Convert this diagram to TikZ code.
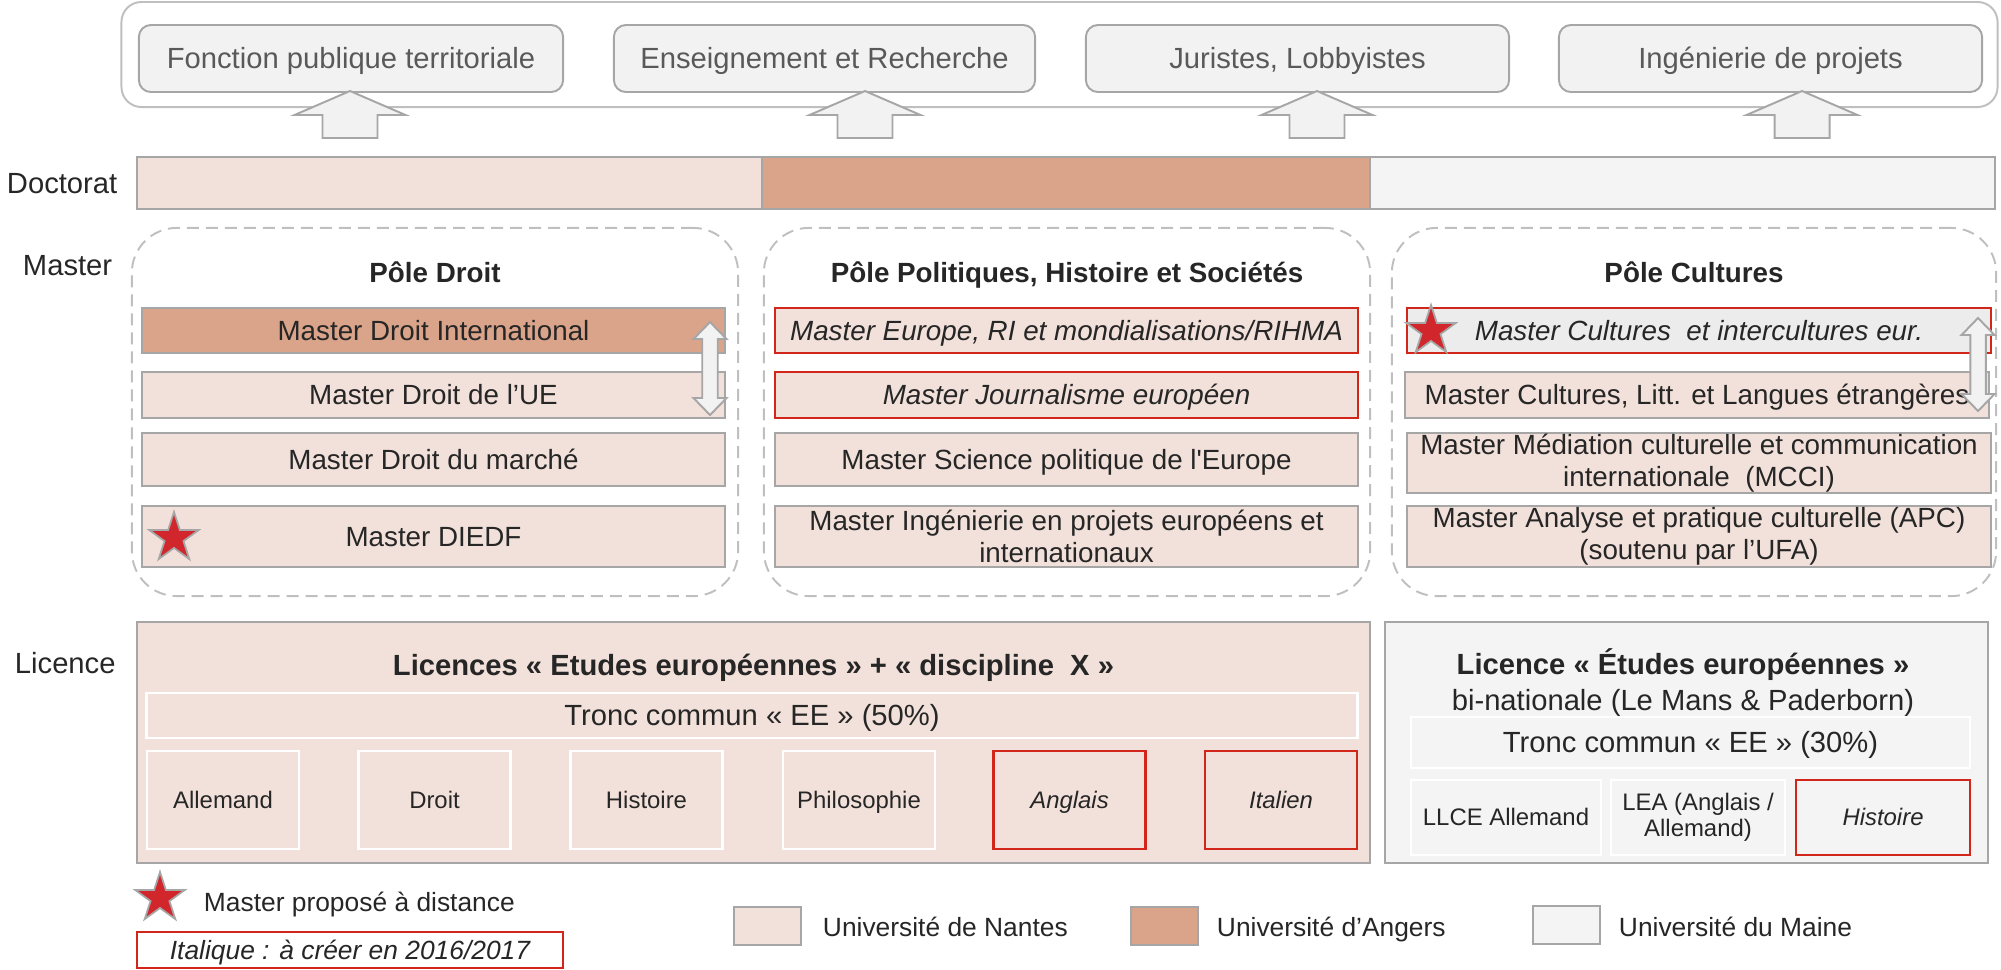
\documentclass[tikz,border=0pt]{standalone}
\usepackage{fontspec}
\setmainfont{Liberation Sans}
\usepackage{tikz}
\usetikzlibrary{arrows.meta}
\usetikzlibrary{calc}
\usetikzlibrary{shapes}

\definecolor{nantes}{HTML}{F2E1DA}
\definecolor{angers}{HTML}{DAA48B}
\definecolor{maine}{HTML}{F4F4F4}
\definecolor{mainedark}{HTML}{ECECEC}
\definecolor{jobfill}{HTML}{F2F2F2}
\definecolor{lightline}{HTML}{BFBFBF}
\definecolor{midline}{HTML}{A6A6A6}
\definecolor{newred}{HTML}{D2261B}
\definecolor{starred}{HTML}{D0262C}
\definecolor{darktext}{HTML}{262626}
\definecolor{jobtext}{HTML}{595959}

\begin{document}
\begin{tikzpicture}[x=0.01cm, y=-0.01cm, line width=0.55pt,
        frame_style/.style={draw=lightline, rounded corners=0.2cm, inner sep=0pt},
        job_style/.style={draw=midline, fill=jobfill, rounded corners=0.12cm, inner sep=0pt, minimum height=0.67cm, text=jobtext, font=\fontsize{8.3}{10}\selectfont, text height=7.5pt, text depth=1.76pt},
        up_arrow_style/.style={draw=midline, fill=jobfill},
        level_style/.style={anchor=west, inner sep=0pt, text=darktext, font=\fontsize{8.3}{10}\selectfont, text height=7.5pt, text depth=1.76pt},
        bar_style/.style={draw=midline, inner sep=0pt, minimum height=0.52cm},
        pole_style/.style={draw=lightline, dash pattern=on 0.12cm off 0.07cm, rounded corners=0.45cm, inner sep=0pt, minimum width=6.06cm, minimum height=3.68cm},
        pole_title_style/.style={inner sep=0pt, text=darktext, font=\fontsize{7.9}{9}\selectfont\bfseries, text height=7.15pt, text depth=1.67pt},
        item_style/.style={draw=midline, fill=nantes, inner sep=0pt, minimum width=5.83cm, align=center, text=darktext, font=\fontsize{7.9}{9}\selectfont, text height=7.15pt, text depth=1.67pt},
        new_item_style/.style={item_style, draw=newred, font=\fontsize{7.9}{9}\selectfont\itshape},
        two_lines/.style={text height=, text depth=},
        swap_arrow_style/.style={draw=midline, fill=jobfill},
        star_style/.style={star, star points=5, star point ratio=2.618, draw=midline, fill=starred, line width=0.5pt, inner sep=0pt, minimum size=0.52cm},
        licence_style/.style={draw=midline, inner sep=0pt, minimum height=2.41cm},
        tronc_style/.style={draw=white, line width=0.7pt, inner sep=0pt, text=darktext, font=\fontsize{8.3}{10}\selectfont, text height=7.5pt, text depth=1.76pt},
        disc_style/.style={draw=white, line width=0.7pt, inner sep=0pt, align=center, text=darktext, font=\fontsize{6.8}{7.3}\selectfont, text height=6.15pt, text depth=1.44pt},
        new_disc_style/.style={disc_style, draw=newred, font=\fontsize{6.8}{7.3}\selectfont\itshape},
        key_style/.style={draw=midline, line width=0.8pt, inner sep=0pt, minimum width=0.67cm, minimum height=0.38cm},
        key_text_style/.style={anchor=west, inner sep=0pt, text=darktext, font=\fontsize{7.5}{9}\selectfont, text height=6.8pt, text depth=1.6pt}]

        \useasboundingbox (0,0) rectangle (2001,969);

        % debouches
        \node [frame_style, minimum width=18.75cm, minimum height=1.05cm](jobs) at (1059.5,54.5) {};

        \node [job_style, minimum width=4.24cm](j1) at (351,58.5) {Fonction publique territoriale};

        \node [job_style, minimum width=4.21cm](j2) at (824.5,58.5) {Enseignement et Recherche};

        \node [job_style, minimum width=4.23cm](j3) at (1297.5,58.5) {Juristes, Lobbyistes};

        \node [job_style, minimum width=4.23cm](j4) at (1770.5,58.5) {Ingénierie de projets};

        \draw [up_arrow_style] (350,91) -- ++(55.5,24) -- ++(-28,0) -- ++(0,23) -- ++(-55,0) -- ++(0,-23) -- ++(-28,0) -- cycle;

        \draw [up_arrow_style] (865,91) -- ++(55.5,24) -- ++(-28,0) -- ++(0,23) -- ++(-55,0) -- ++(0,-23) -- ++(-28,0) -- cycle;

        \draw [up_arrow_style] (1317,91) -- ++(55.5,24) -- ++(-28,0) -- ++(0,23) -- ++(-55,0) -- ++(0,-23) -- ++(-28,0) -- cycle;

        \draw [up_arrow_style] (1802,91) -- ++(55.5,24) -- ++(-28,0) -- ++(0,23) -- ++(-55,0) -- ++(0,-23) -- ++(-28,0) -- cycle;

        % doctorat
        \node [level_style](doc) at (6,183) {Doctorat};

        \node [bar_style, fill=nantes, minimum width=6.25cm](d1) at (449.5,183) {};

        \node [bar_style, fill=angers, minimum width=6.08cm](d2) at (1066,183) {};

        \node [bar_style, fill=maine, minimum width=6.25cm](d3) at (1682.5,183) {};

        % master
        \node [level_style](mas) at (22,265) {Master};

        \node [pole_style](p1) at (435,412) {};

        \node [pole_style](p2) at (1067,412) {};

        \node [pole_style, minimum width=6.04cm](p3) at (1694,412) {};

        \node [pole_title_style](t1) at (435,273) {Pôle Droit};

        \node [pole_title_style](t2) at (1067,273) {Pôle Politiques, Histoire et Sociétés};

        \node [pole_title_style](t3) at (1694,273) {Pôle Cultures};

        \node [item_style, fill=angers, minimum height=0.45cm](m11) at (433.5,330.5) {Master Droit International};

        \node [item_style, minimum height=0.46cm](m12) at (433.5,395) {Master Droit de l’UE};

        \node [item_style, minimum height=0.53cm](m13) at (433.5,459.5) {Master Droit du marché};

        \node [item_style, minimum height=0.61cm](m14) at (433.5,536.5) {Master DIEDF};

        \node [new_item_style, minimum height=0.45cm](m21) at (1066.5,330.5) {Master Europe, RI et mondialisations/RIHMA};

        \node [new_item_style, minimum height=0.46cm](m22) at (1066.5,395) {Master Journalisme européen};

        \node [item_style, minimum height=0.53cm](m23) at (1066.5,459.5) {Master Science politique de l\textquotesingle Europe};

        \node [item_style, two_lines, minimum height=0.61cm](m24) at (1066.5,536.5) {Master Ingénierie en projets européens et\\internationaux};

        \node [new_item_style, fill=mainedark, minimum height=0.45cm](m31) at (1699,330.5) {Master Cultures\ \ et intercultures eur.};

        \node [item_style, minimum height=0.46cm](m32) at (1697,395) {Master Cultures, Litt. et Langues étrangères};

        \node [item_style, two_lines, minimum height=0.60cm](m33) at (1699,463) {Master Médiation culturelle et communication\\internationale\ \ (MCCI)};

        \node [item_style, two_lines, minimum height=0.61cm](m34) at (1699,536.5) {Master Analyse et pratique culturelle (APC)\\(soutenu par l’UFA)};

        \draw [swap_arrow_style] (710,322) -- ++(16.5,17) -- ++(-8.75,0) -- ++(0,59) -- ++(8.75,0) -- ++(-16.5,17) -- ++(-16.5,-17) -- ++(8.75,0) -- ++(0,-59) -- ++(-8.75,0) -- cycle;

        \draw [swap_arrow_style] (1978,318) -- ++(16.5,17) -- ++(-8.75,0) -- ++(0,59) -- ++(8.75,0) -- ++(-16.5,17) -- ++(-16.5,-17) -- ++(8.75,0) -- ++(0,-59) -- ++(-8.75,0) -- cycle;

        \node [star_style](s1) at (174,538) {};

        \node [star_style](s2) at (1431,331) {};

        % licence
        \node [level_style](lic) at (14,663) {Licence};

        \node [licence_style, fill=nantes, minimum width=12.33cm](l1) at (753.5,742.5) {};

        \node [pole_title_style, font=\fontsize{8.3}{10}\selectfont\bfseries, text height=7.5pt, text depth=1.76pt](lt1) at (753.5,665) {Licences « Etudes européennes » + « discipline\ \ X »};

        \node [tronc_style, minimum width=12.10cm, minimum height=0.45cm](tc1) at (752,715.5) {Tronc commun « EE » (50\%)};

        \node [disc_style, minimum width=1.52cm, minimum height=0.98cm](x1) at (223,800) {Allemand};

        \node [disc_style, minimum width=1.52cm, minimum height=0.98cm](x2) at (434.5,800) {Droit};

        \node [disc_style, minimum width=1.52cm, minimum height=0.98cm](x3) at (646.5,800) {Histoire};

        \node [disc_style, minimum width=1.52cm, minimum height=0.98cm](x4) at (859,800) {Philosophie};

        \node [new_disc_style, minimum width=1.52cm, minimum height=0.98cm](x5) at (1069.5,800) {Anglais};

        \node [new_disc_style, minimum width=1.52cm, minimum height=0.98cm](x6) at (1281,800) {Italien};

        \node [licence_style, fill=maine, minimum width=6.03cm](l2) at (1686.5,742.5) {};

        \node [inner sep=0pt, align=center, text=darktext, font=\fontsize{8.3}{10}\selectfont](lt2) at (1683,682.5) {\textbf{Licence « Études européennes »}\\bi-nationale (Le Mans \& Paderborn)};

        \node [tronc_style, minimum width=5.59cm, minimum height=0.51cm](tc2) at (1690.5,742.5) {Tronc commun « EE » (30\%)};

        \node [disc_style, minimum width=1.90cm, minimum height=0.75cm](y1) at (1506,817.5) {LLCE Allemand};

        \node [disc_style, two_lines, minimum width=1.74cm, minimum height=0.75cm](y2) at (1698,817.5) {LEA (Anglais /\\Allemand)};

        \node [new_disc_style, minimum width=1.74cm, minimum height=0.75cm](y3) at (1883,817.5) {Histoire};

        % legende
        \node [star_style](s3) at (160,898) {};

        \node [key_text_style](k0) at (203,902) {Master proposé à distance};

        \node [draw=newred, fill=white, inner sep=0pt, minimum width=4.26cm, minimum height=0.36cm, text=darktext, font=\fontsize{7.5}{9}\selectfont\itshape, text height=6.8pt, text depth=1.6pt](k00) at (350,950) {Italique : à créer en 2016/2017};

        \node [key_style, fill=nantes](k1) at (767.5,926) {};

        \node [key_text_style](k1t) at (822,927) {Université de Nantes};

        \node [key_style, fill=angers](k2) at (1164.5,926) {};

        \node [key_text_style](k2t) at (1216,927) {Université d’Angers};

        \node [key_style, fill=maine](k3) at (1566.5,925) {};

        \node [key_text_style](k3t) at (1618,927) {Université du Maine};

        \end{tikzpicture}
\end{document}
